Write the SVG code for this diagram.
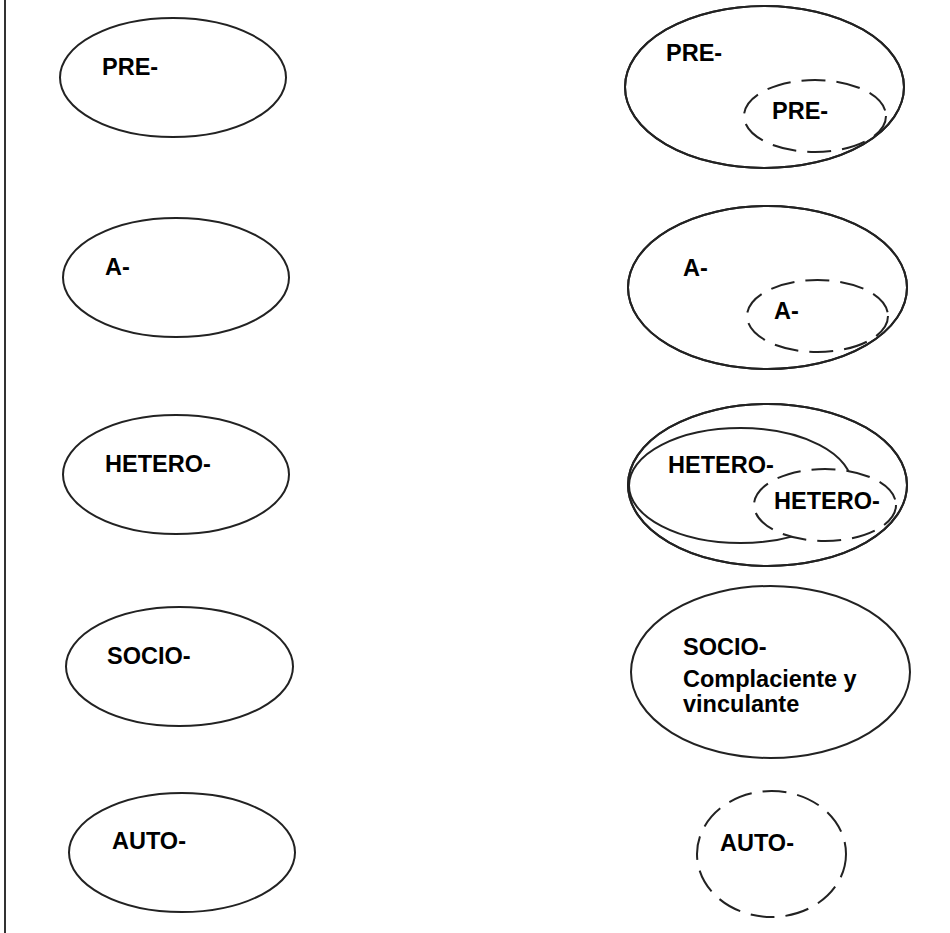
<svg xmlns="http://www.w3.org/2000/svg" width="950" height="933" viewBox="0 0 950 933">
<style>
.e{fill:#fff;stroke:#222;stroke-width:2}
.o{fill:none;stroke:#222;stroke-width:2}
.d{fill:#fff;stroke:#222;stroke-width:2;stroke-dasharray:24 11}
.t{font-family:"Liberation Sans",Arial,sans-serif;font-weight:bold;font-size:23.5px;fill:#000}
</style>
<rect width="950" height="933" fill="#fff"/>
<line x1="5" y1="0" x2="5" y2="933" stroke="#333" stroke-width="2"/>
<g id="pre-left"><ellipse class="e" cx="173" cy="77.5" rx="113" ry="59.5"/><text class="t" x="102" y="75">PRE-</text></g>
<g id="a-left"><ellipse class="e" cx="176" cy="277.5" rx="113" ry="59.5"/><text class="t" x="105" y="275">A-</text></g>
<g id="hetero-left"><ellipse class="e" cx="176" cy="474.5" rx="113" ry="59.5"/><text class="t" x="105" y="472">HETERO-</text></g>
<g id="socio-left"><ellipse class="e" cx="179.5" cy="666.5" rx="113.5" ry="59.5"/><text class="t" x="107" y="664">SOCIO-</text></g>
<g id="auto-left"><ellipse class="e" cx="182" cy="852.5" rx="113" ry="59.5"/><text class="t" x="112" y="849">AUTO-</text></g>
<g id="pre-right"><ellipse class="e" cx="764.5" cy="87" rx="139.5" ry="81"/><text class="t" x="666" y="61">PRE-</text><ellipse class="d" cx="815" cy="116" rx="71" ry="36"/><ellipse class="o" cx="764.5" cy="87" rx="139.5" ry="81"/><text class="t" x="772" y="119">PRE-</text></g>
<g id="a-right"><ellipse class="e" cx="767.5" cy="287.5" rx="139.5" ry="81.5"/><text class="t" x="683" y="276">A-</text><ellipse class="d" cx="817.5" cy="316" rx="70.5" ry="36"/><ellipse class="o" cx="767.5" cy="287.5" rx="139.5" ry="81.5"/><text class="t" x="774" y="319">A-</text></g>
<g id="hetero-right"><ellipse class="e" cx="767.5" cy="485" rx="139.5" ry="81"/><ellipse class="o" cx="740.5" cy="485.5" rx="111.5" ry="57.5"/><text class="t" x="668" y="473">HETERO-</text><ellipse class="d" cx="825" cy="505" rx="71" ry="36"/><ellipse class="o" cx="767.5" cy="485" rx="139.5" ry="81"/><text class="t" x="774" y="509">HETERO-</text></g>
<g id="socio-right"><ellipse class="e" cx="770.5" cy="672" rx="139.5" ry="86"/><text class="t" x="683" y="655">SOCIO-</text><text class="t" x="683" y="687">Complaciente y</text><text class="t" x="683" y="712">vinculante</text></g>
<g id="auto-right"><ellipse class="d" cx="771.5" cy="854" rx="74.5" ry="63"/><text class="t" x="720" y="851">AUTO-</text></g>
</svg>
